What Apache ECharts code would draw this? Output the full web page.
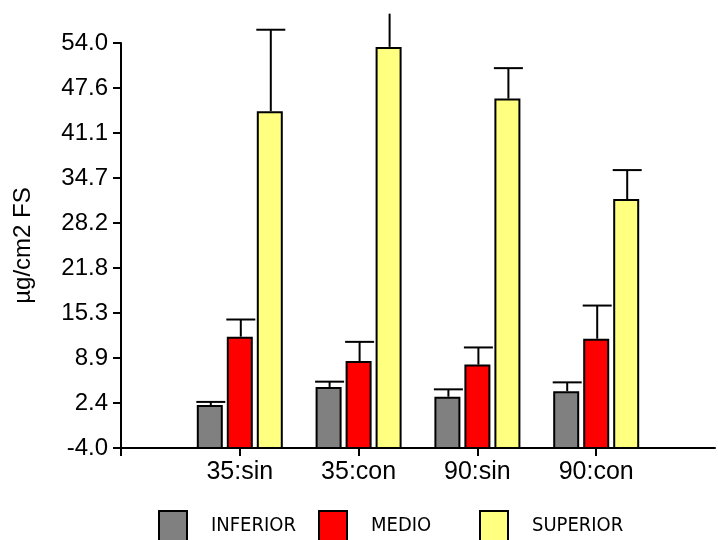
<!DOCTYPE html>
<html>
<head>
<meta charset="utf-8">
<script src="https://cdn.jsdelivr.net/npm/echarts@6/dist/echarts.min.js"></script>
<style>
  html, body { margin: 0; padding: 0; background: #fff; }
  #chart { width: 718px; height: 540px; }
</style>
</head>
<body>
<div id="chart"></div>
<script>
// Groups along the x axis (blank slots pad the axis on both sides)
var categories = ['', '35:sin', '35:con', '90:sin', '90:con', ''];
var seriesNames = ['INFERIOR', 'MEDIO', 'SUPERIOR'];

// Mean values per group
var inferior = [null, 2.0, 4.6, 3.2, 4.0, null];
var medio    = [null, 11.8, 8.3, 7.8, 11.5, null];
var superior = [null, 44.1, 53.3, 45.9, 31.5, null];

// Error (upper whisker) per group
var errInferior = [null, 0.6, 0.9, 1.2, 1.4, null];
var errMedio    = [null, 2.6, 2.9, 2.6, 4.9, null];
var errSuperior = [null, 11.8, 10.0, 4.5, 4.3, null];

// Y axis scale
var yMin = -4.0;
var yMax = 54.0;
var yTickCount = 9;

var colors = ['#808080', '#ff0000', '#ffff80'];
var FONT = '"Liberation Sans", Arial, sans-serif';
var NARROW = '"DejaVu Sans Condensed", "Liberation Sans", Arial, sans-serif';

var values = [inferior, medio, superior];
var errors = [errInferior, errMedio, errSuperior];

var BAR_W = 24;        // inner bar width (px)
var BAR_PITCH = 30;    // distance between neighbouring bars in a group (px)
var CAP_W = 29;        // whisker cap width (px)
var CLIP_VALUE = 58.2; // whiskers are cut off above this value

var chart = echarts.init(document.getElementById('chart'), null, { renderer: 'canvas' });

// Bars rise from the bottom of the value axis; each carries its upper whisker
function makeSeries(name, s) {
  var data = [];
  for (var c = 0; c < categories.length; c++) {
    if (values[s][c] == null) continue;
    data.push([c, values[s][c], values[s][c] + errors[s][c]]);
  }
  return {
    name: name,
    type: 'custom',
    data: data,
    clip: false,
    silent: true,
    itemStyle: { color: colors[s] },
    encode: { x: 0, y: [1, 2] },
    renderItem: function (params, api) {
      var c = api.value(0);
      var top = api.coord([c, api.value(1)]);
      var base = api.coord([c, yMin]);
      var hi = api.coord([c, api.value(2)]);
      var limit = api.coord([c, CLIP_VALUE])[1];
      var cx = top[0] + (s - 1) * BAR_PITCH;
      var line = { stroke: '#000', lineWidth: 2, fill: null };
      var children = [{
        type: 'rect',
        shape: { x: cx - BAR_W / 2, y: top[1], width: BAR_W, height: base[1] - top[1] },
        style: { fill: colors[s], stroke: '#000', lineWidth: 2 }
      }];
      var wx = cx + 1;
      var clipped = hi[1] < limit;
      var y2 = clipped ? limit : hi[1];
      children.push({
        type: 'line',
        shape: { x1: wx, y1: top[1] - 1, x2: wx, y2: y2 },
        style: line
      });
      if (!clipped) {
        children.push({
          type: 'line',
          shape: { x1: wx - CAP_W / 2, y1: y2, x2: wx + CAP_W / 2, y2: y2 },
          style: line
        });
      }
      return { type: 'group', children: children };
    }
  };
}

var series = seriesNames.map(makeSeries);

var legendLefts = [158, 318, 479];
var legends = seriesNames.map(function (name, i) {
  return {
    data: [{ name: name, itemStyle: { color: colors[i], borderColor: '#000', borderWidth: 2 } }],
    left: legendLefts[i],
    top: 510,
    padding: 0,
    orient: 'horizontal',
    icon: 'rect',
    itemWidth: 28,
    itemHeight: 30,
    selectedMode: false,
    textStyle: { fontFamily: NARROW, fontSize: 20, color: '#000', padding: [0, 0, 0, 19] }
  };
});

chart.setOption({
  animation: false,
  backgroundColor: '#fff',
  grid: { left: 121, right: -6, top: 43, height: 405, containLabel: false },
  legend: legends,
  xAxis: {
    type: 'category',
    data: categories,
    boundaryGap: false,
    axisLine: { show: true, onZero: false, lineStyle: { color: '#000', width: 2 } },
    axisTick: {
      show: true, length: 8,
      interval: function (idx, val) { return idx < categories.length - 1; },
      lineStyle: { color: '#000', width: 2 }
    },
    axisLabel: { color: '#000', fontFamily: FONT, fontSize: 25, margin: 12, interval: 0 },
    splitLine: { show: false }
  },
  yAxis: {
    type: 'value',
    min: yMin,
    max: yMax,
    interval: (yMax - yMin) / yTickCount,
    name: 'µg/cm2 FS',
    nameLocation: 'middle',
    nameGap: 86,
    nameTextStyle: { color: '#000', fontFamily: FONT, fontSize: 24 },
    axisLine: { show: true, onZero: false, lineStyle: { color: '#000', width: 2 } },
    axisTick: { show: true, length: 8, lineStyle: { color: '#000', width: 2 } },
    axisLabel: {
      color: '#000', fontFamily: FONT, fontSize: 24, margin: 13,
      formatter: function (v) { return v.toFixed(1); }
    },
    splitLine: { show: false }
  },
  series: series
});
</script>
</body>
</html>
